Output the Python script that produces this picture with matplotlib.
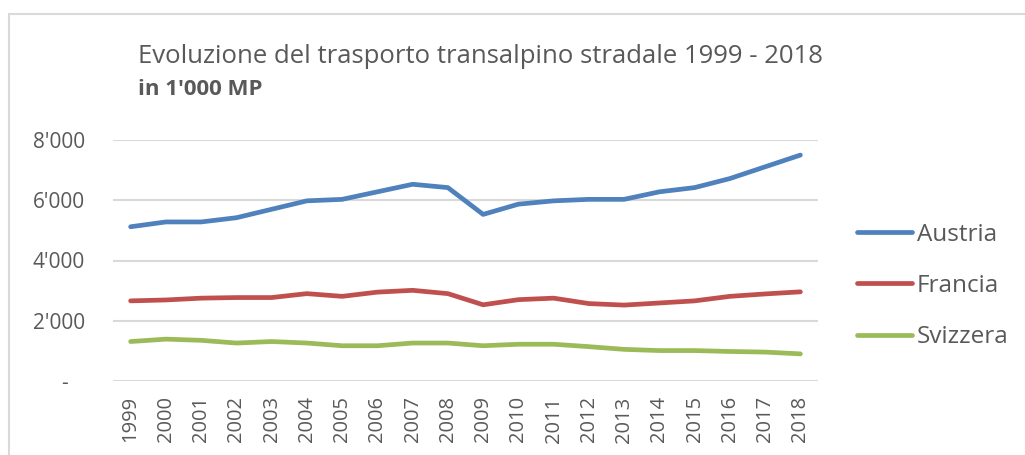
import matplotlib
matplotlib.use("Agg")
from matplotlib import pyplot as plt
from matplotlib.patches import Rectangle

anni = [str(a) for a in range(1999, 2019)]
austria = [5120, 5280, 5280, 5420, 5700, 5980, 6030, 6280, 6530, 6420,
           5530, 5870, 5980, 6030, 6030, 6280, 6420, 6720, 7110, 7500]
francia = [2660, 2690, 2750, 2770, 2770, 2900, 2810, 2950, 3010, 2900,
           2530, 2700, 2750, 2570, 2520, 2590, 2660, 2810, 2890, 2960]
svizzera = [1310, 1390, 1350, 1260, 1310, 1260, 1170, 1170, 1260, 1260,
            1170, 1220, 1220, 1140, 1050, 1010, 1010, 980, 960, 900]
serie = ["Austria", "Francia", "Svizzera"]
colori = ["#4F81BD", "#C0504D", "#9BBB59"]
y_ticks = [0, 2000, 4000, 6000, 8000]
y_labels = ["-   ", "2'000", "4'000", "6'000", "8'000"]

plt.rcParams["font.family"] = ["Open Sans", "DejaVu Sans"]
fig = plt.figure(figsize=(10.25, 4.55), dpi=100)
ax = fig.add_axes([113 / 1025, 1 - 381 / 455, 705 / 1025, 241 / 455])

# cornice grigia
fig.patches.append(Rectangle((9 / 1025, -0.1), 1.2, 1 - 14 / 455 + 0.1,
                             transform=fig.transFigure, fill=False,
                             edgecolor="#d9d9d9", lw=1.5))

x = range(len(anni))
for nome, valori, c in zip(serie, [austria, francia, svizzera], colori):
    ax.plot(x, valori, color=c, lw=3.4, solid_capstyle="round", label=nome)

ax.set_xlim(-0.5, len(anni) - 0.5)
ax.set_ylim(0, 8000)
ax.set_yticks(y_ticks)
ax.set_yticklabels(y_labels)
ax.set_xticks(list(x))
ax.set_xticklabels(anni, rotation=90)
ax.tick_params(axis="y", length=0, pad=20, labelsize=15, labelcolor="#595959")
ax.tick_params(axis="x", length=0, pad=11, labelsize=14.5, labelcolor="#595959")
ax.grid(axis="y", color="#d9d9d9", lw=1.5)
ax.set_axisbelow(True)
for s in ax.spines.values():
    s.set_visible(False)

fig.text(138 / 1025, 1 - 63 / 455, "Evoluzione del trasporto transalpino stradale 1999 - 2018",
         fontsize=18.5, color="#595959", va="baseline")
fig.text(138 / 1025, 1 - 95 / 455, "in 1'000 MP", fontsize=16, color="#595959",
         fontweight="bold", va="baseline")

ax.legend(loc="center left", bbox_to_anchor=((857 - 113) / 705, (381 - 286) / 241),
          frameon=False, fontsize=17.5, labelcolor="#595959", handlelength=2.26,
          handletextpad=0.2, labelspacing=1.12, borderaxespad=0, borderpad=0)

fig.savefig("out.png", dpi=100)
